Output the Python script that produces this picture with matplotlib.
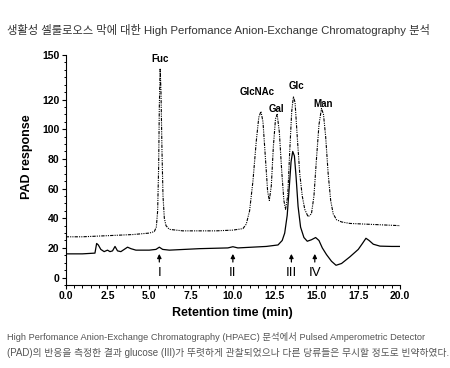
import matplotlib
matplotlib.use("Agg")
import matplotlib.pyplot as plt
from matplotlib.ticker import MultipleLocator

plt.rcParams['font.family'] = ['Liberation Sans', 'Noto Sans CJK KR', 'DejaVu Sans']

# standards trace (dash-dot)
std_t = [0, 1, 2, 3, 4, 5, 5.3, 5.42, 5.5, 5.56, 5.6, 5.65, 5.7, 5.76, 5.82, 5.9, 6.0, 6.2,
         7, 8, 9, 10, 10.6, 10.8, 11.0, 11.2, 11.4, 11.55, 11.68, 11.8, 11.95, 12.08, 12.18,
         12.3, 12.42, 12.55, 12.65, 12.78, 12.92, 13.05, 13.15, 13.28, 13.4, 13.52, 13.62,
         13.72, 13.85, 14.0, 14.15, 14.3, 14.5, 14.7, 14.85, 15.0, 15.15, 15.3, 15.42, 15.55,
         15.7, 15.85, 16.0, 16.2, 16.5, 17, 18, 19, 20]
std_y = [27.5, 27.5, 28, 28.5, 29, 30, 31, 34, 45, 75, 115, 141, 125, 85, 55, 40, 35, 32.5,
         31.5, 31.5, 31.5, 32, 33, 36, 45, 65, 92, 108, 112, 105, 80, 58, 52,
         62, 88, 107, 110, 98, 72, 52, 46, 55, 85, 112, 122,
         118, 95, 70, 55, 46, 41, 43, 55, 80, 103, 114, 110, 95,
         70, 52, 43, 39, 37.5, 36.5, 36, 35.5, 35]

# sample trace (solid)
smp_t = [0, 1, 1.75, 1.85, 1.95, 2.1, 2.3, 2.5, 2.65, 2.8, 2.95, 3.1, 3.3, 3.5, 3.7, 3.9,
         4.2, 5, 5.4, 5.6, 5.8, 6.2, 8, 9.7, 10, 10.3, 12, 12.7, 12.95, 13.1, 13.25, 13.38,
         13.48, 13.58, 13.68, 13.78, 13.9, 14.05, 14.25, 14.45, 14.7, 14.95, 15.15, 15.35,
         15.6, 15.9, 16.17, 16.5, 17.0, 17.5, 17.75, 17.96, 18.15, 18.4, 18.8, 19.5, 20]
smp_y = [16, 16, 16.5, 23, 22, 19, 17.5, 18.5, 17.5, 18, 21, 18, 17.5, 19, 20.5, 19.5,
         18.5, 18.5, 19, 20.5, 19, 18.5, 19.5, 20, 20.8, 20, 21, 22, 25, 30, 42, 62,
         78, 85, 82, 68, 48, 34, 27, 24.5, 25.5, 27, 25, 20,
         15.5, 11, 8.3, 9.5, 14, 19, 23, 26.5, 25, 22.5, 21.2, 21, 21]

peak_names = ['Fuc', 'GlcNAc', 'Gal', 'Glc', 'Man']
peak_x = [5.64, 11.43, 12.62, 13.82, 15.41]
peak_y = [147, 125, 113.5, 129, 117]

mark_names = ['I', 'II', 'III', 'IV']
mark_x = [5.6, 10.0, 13.5, 14.9]

title = '생활성 셀룰로오스 막에 대한 High Perfomance Anion-Exchange Chromatography 분석'
caption = ['High Perfomance Anion-Exchange Chromatography (HPAEC) 분석에서 Pulsed Amperometric Detector',
           '(PAD)의 반응을 측정한 결과 glucose (III)가 뚜렷하게 관찰되었으나 다른 당류들은 무시할 정도로 빈약하였다.']


def fitted_text(fig, x, y, s, width, size, **kw):
    # shrink/grow the font so the line spans about `width` pixels
    r = fig.canvas.get_renderer()
    t = fig.text(x / fig.bbox.width, 1 - y / fig.bbox.height, s, fontsize=size,
                 va='baseline', **kw)
    w = t.get_window_extent(renderer=r).width
    t.set_fontsize(size * width / w)
    return t


fig = plt.figure(figsize=(4.5, 3.68), dpi=100)
ax = fig.add_axes([0.146, 0.2255, 0.743, 0.625])

ax.plot(std_t, std_y, color='black', lw=0.8, linestyle=(0, (3, 1, 1, 1, 1, 1)))
ax.plot(smp_t, smp_y, color='black', lw=0.9)

for name, x, y in zip(peak_names, peak_x, peak_y):
    ax.text(x, y, name, ha='center', va='center', fontsize=7, fontweight='bold')

for name, x in zip(mark_names, mark_x):
    ax.annotate('', xy=(x, 16), xytext=(x, 10.5),
                arrowprops=dict(arrowstyle='-|>', color='black', lw=0.9,
                                mutation_scale=6, shrinkA=0, shrinkB=0))
    ax.text(x, 3, name, ha='center', va='center', fontsize=9.5)

ax.set_xlim(0, 20)
ax.set_ylim(-5, 150)
ax.set_yticks([0, 20, 40, 60, 80, 100, 120, 150])
ax.xaxis.set_major_locator(MultipleLocator(2.5))
ax.xaxis.set_minor_locator(MultipleLocator(0.5))
ax.yaxis.set_minor_locator(MultipleLocator(5))
ax.set_xticklabels([f'{v:.1f}' for v in ax.get_xticks()])
ax.spines['top'].set_visible(False)
ax.spines['right'].set_visible(False)
ax.spines['left'].set_bounds(-5, 150)
ax.tick_params(which='major', length=3, width=0.8, labelsize=7.5, pad=1.5)
ax.tick_params(which='minor', length=1.8, width=0.7)
for lab in ax.get_xticklabels() + ax.get_yticklabels():
    lab.set_fontweight('bold')

ax.set_xlabel('Retention time (min)', fontsize=9, fontweight='bold', labelpad=4)
ax.set_ylabel('PAD response', fontsize=9, fontweight='bold')
ax.yaxis.set_label_coords(-0.098, 0.56)

fitted_text(fig, 7, 34, title, 426, 8, color='#333333')
fitted_text(fig, 7, 340, caption[0], 420, 6.5, color='#555555')
fitted_text(fig, 7, 356, caption[1], 438, 6.5, color='#555555')

fig.savefig('out.png', dpi=100)
